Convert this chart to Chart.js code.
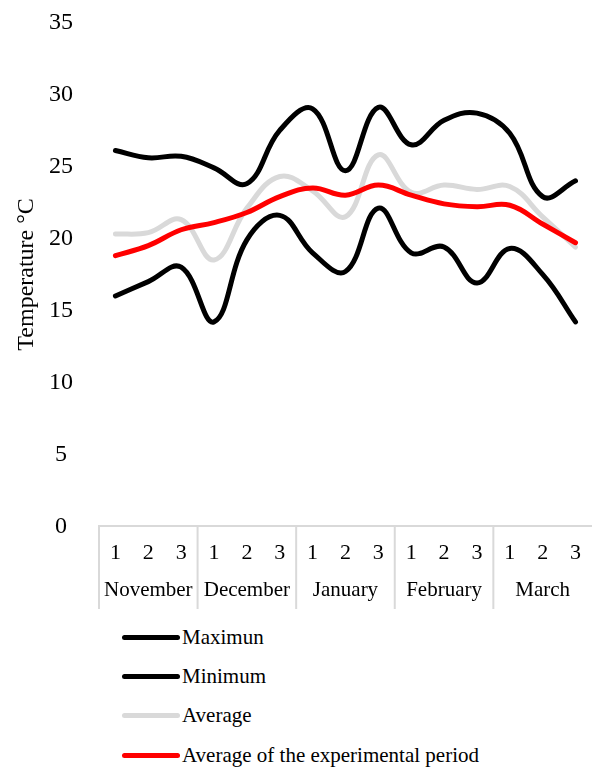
<!DOCTYPE html>
<html lang="en">
<head>
  <meta charset="UTF-8" />
  <title>Temperature</title>
  <script src="https://cdn.jsdelivr.net/npm/chart.js"></script>
  <style>
    body {
      margin: 0;
      padding: 0;
      background: #fff;
      font-family: "Liberation Serif", "Times New Roman", serif;
    }
    .wrap {
      position: relative;
      width: 595px;
      height: 767px;
      overflow: hidden;
    }
    #chart {
      position: absolute;
      left: 0;
      top: -18px;
    }
    .legend-row {
      position: absolute;
      left: 122px;
      height: 28px;
      display: flex;
      align-items: center;
      font-size: 21px;
      color: #000;
      white-space: nowrap;
    }
    .legend-row .swatch {
      display: inline-block;
      width: 58px;
      height: 5px;
      border-radius: 3px;
      margin-right: 2px;
    }
  </style>
</head>
<body>
  <div class="wrap">
    <canvas id="chart" width="595" height="631"></canvas>
    <div id="legend"></div>
  </div>

  <script>
    const months = ['November', 'December', 'January', 'February', 'March'];
    const dekads = ['1', '2', '3'];
    const yTicks = [0, 5, 10, 15, 20, 25, 30, 35];

    const maxTemp = [26.1, 25.6, 25.7, 24.9, 23.8, 27.5, 29.0, 24.7, 29.1, 26.5, 28.2, 28.7, 27.3, 22.9, 24.0];
    const minTemp = [16.0, 17.0, 18.0, 14.2, 19.9, 21.6, 19.0, 17.7, 22.1, 19.0, 19.4, 16.9, 19.3, 17.5, 14.2];
    const avgTemp = [20.3, 20.4, 21.3, 18.5, 22.1, 24.3, 23.3, 21.5, 25.8, 23.2, 23.7, 23.4, 23.6, 21.5, 19.4];
    const periodAvg = [18.8, 19.5, 20.6, 21.1, 21.8, 22.9, 23.5, 23.0, 23.7, 23.0, 22.4, 22.2, 22.3, 21.0, 19.7];

    const labels = months.flatMap(() => dekads);

    Chart.defaults.font.family = '"Liberation Serif", "Times New Roman", serif';
    Chart.defaults.color = '#000';

    // grey separators between the months, under both label rows
    const monthLines = {
      id: 'monthLines',
      afterDraw(chart) {
        const x = chart.scales.x;
        const x2 = chart.scales.x2;
        const ctx = chart.ctx;
        const step = x.getPixelForValue(1) - x.getPixelForValue(0);
        ctx.save();
        ctx.strokeStyle = '#d9d9d9';
        ctx.lineWidth = 2;
        for (let m = 0; m < months.length; m++) {
          const px = x.getPixelForValue(m * dekads.length) - step / 2;
          ctx.beginPath();
          ctx.moveTo(px, x.top);
          ctx.lineTo(px, x2.bottom - 4);
          ctx.stroke();
        }
        ctx.restore();
      }
    };

    const series = [
      { label: 'Maximun', data: maxTemp, color: '#000000', order: 1 },
      { label: 'Minimum', data: minTemp, color: '#000000', order: 2 },
      { label: 'Average', data: avgTemp, color: '#d9d9d9', order: 3 },
      { label: 'Average of the experimental period', data: periodAvg, color: '#ff0000', order: 0 }
    ];

    const chart = new Chart(document.getElementById('chart'), {
      type: 'line',
      data: {
        labels: labels,
        datasets: series.map(s => ({
          label: s.label,
          data: s.data,
          borderColor: s.color,
          backgroundColor: s.color,
          borderWidth: 5,
          borderCapStyle: 'round',
          tension: 0.4,
          pointRadius: 0,
          fill: false,
          order: s.order
        }))
      },
      options: {
        responsive: false,
        animation: false,
        layout: { padding: { top: 10, right: 0, bottom: 0, left: 0 } },
        plugins: {
          legend: { display: false },
          tooltip: { enabled: false }
        },
        scales: {
          y: {
            min: 0,
            max: 35,
            afterBuildTicks: (scale) => { scale.ticks = yTicks.map(v => ({ value: v })); },
            afterFit: (scale) => { scale.width = 99; },
            grid: { display: false, drawTicks: false },
            border: { display: false },
            ticks: { font: { size: 24 }, crossAlign: 'center', padding: 26 },
            title: {
              display: true,
              text: 'Temperature °C',
              font: { size: 24 },
              padding: { top: 12, bottom: 0 }
            }
          },
          x: {
            offset: true,
            weight: 0,
            afterFit: (scale) => { scale.height -= 13; },
            grid: { display: false, drawTicks: false },
            border: { display: true, color: '#d9d9d9', width: 2 },
            ticks: { font: { size: 22 }, padding: 14, maxRotation: 0, autoSkip: false }
          },
          x2: {
            type: 'category',
            labels: months,
            position: 'bottom',
            offset: true,
            weight: 1,
            grid: { display: false, drawTicks: false },
            border: { display: false },
            ticks: { font: { size: 21 }, padding: 10, maxRotation: 0, autoSkip: false }
          }
        }
      },
      plugins: [monthLines]
    });

    // legend: one row per series, stacked below the chart
    const legend = document.getElementById('legend');
    const rowCenters = [637.5, 676.5, 715.5, 755];
    series.forEach((s, i) => {
      const row = document.createElement('div');
      row.className = 'legend-row';
      row.style.top = (rowCenters[i] - 14) + 'px';
      const sw = document.createElement('span');
      sw.className = 'swatch';
      sw.style.background = s.color;
      const txt = document.createElement('span');
      txt.textContent = s.label;
      row.appendChild(sw);
      row.appendChild(txt);
      legend.appendChild(row);
    });
  </script>
</body>
</html>
